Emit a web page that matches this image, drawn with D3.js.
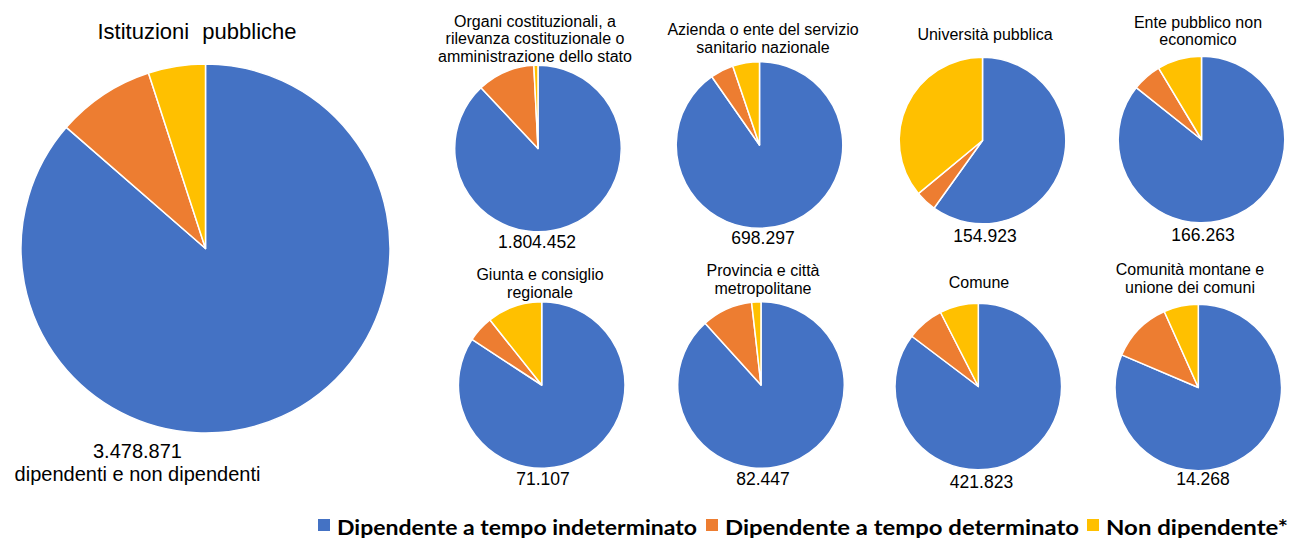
<!DOCTYPE html>
<html>
<head>
<meta charset="utf-8">
<script src="https://cdn.jsdelivr.net/npm/d3@7"></script>
<style>
  html, body { margin: 0; padding: 0; background: #ffffff; }
  svg { display: block; }
  text { font-family: "Liberation Sans", Arial, sans-serif; fill: #000; }
</style>
</head>
<body>
<svg id="chart" width="1290" height="538"></svg>
<script>
// ---------- DATA ----------
const seriesNames = ["Dipendente a tempo indeterminato", "Dipendente a tempo determinato", "Non dipendente*"];
const seriesColors = ["#4472C4", "#ED7D31", "#FFC000"];

const mainTitle = "Istituzioni pubbliche";
const mainTotal = "3.478.871";
const mainSubtitle = "dipendenti e non dipendenti";
const mainIndeterminato = 86.4;
const mainDeterminato = 8.6;
const mainNonDipendente = 5.0;

const categories = [
  ["Organi costituzionali, a", "rilevanza costituzionale o", "amministrazione dello stato"],
  ["Azienda o ente del servizio", "sanitario nazionale"],
  ["Università pubblica"],
  ["Ente pubblico non", "economico"],
  ["Giunta e consiglio", "regionale"],
  ["Provincia e città", "metropolitane"],
  ["Comune"],
  ["Comunità montane e", "unione dei comuni"]
];
const totals = ["1.804.452", "698.297", "154.923", "166.263", "71.107", "82.447", "421.823", "14.268"];
const indeterminato = [88.0, 90.3, 59.9, 85.7, 84.2, 88.3, 85.3, 81.4];
const determinato   = [11.2,  4.5,  4.1,  5.7,  5.1,  9.9,  7.2, 11.9];
const nonDipendente = [ 0.8,  5.2, 36.0,  8.6, 10.7,  1.8,  7.5,  6.7];

// ---------- LAYOUT ----------
const svg = d3.select("#chart");
const color = d3.scaleOrdinal().domain(seriesNames).range(seriesColors);
const pie = d3.pie().sort(null).value(d => d.v);

function drawPie(g, vals, r) {
  const data = seriesNames.map((s, i) => ({ s, v: vals[i] }));
  const arc = d3.arc().innerRadius(0).outerRadius(r);
  g.selectAll("path")
    .data(pie(data))
    .join("path")
    .attr("d", arc)
    .attr("fill", d => color(d.data.s))
    .attr("stroke", "#ffffff")
    .attr("stroke-width", 1.5)
    .attr("stroke-linejoin", "round");
}

// main pie
const mainG = svg.append("g").attr("transform", "translate(205.5,248.5)");
drawPie(mainG, [mainIndeterminato, mainDeterminato, mainNonDipendente], 184.5);
svg.append("text").attr("x", 197).attr("y", 38.5).attr("text-anchor", "middle")
  .style("font-size", "22px").style("word-spacing", "7px").text(mainTitle);
svg.append("text").attr("x", 137.5).attr("y", 458.3).attr("text-anchor", "middle")
  .style("font-size", "20px").text(mainTotal);
svg.append("text").attr("x", 137.5).attr("y", 480.5).attr("text-anchor", "middle")
  .style("font-size", "20px").text(mainSubtitle);

// small pies
const cxs = [538, 759.5, 982.5, 1201.5, 541.7, 761, 978.3, 1198.3];
const cys = [148.5, 145, 140.5, 139.5, 385, 385, 386.5, 387.5];
const titleBase = [26.5, 35, 39.5, 27.5, 280, 276, 288, 275];
const titleCx = [535, 763, 985, 1198, 540, 763, 979, 1190];
const valueBase = [248, 243.5, 241.5, 241, 484.5, 484.5, 487.5, 485];
const valueCx = [537, 763, 985, 1203, 543, 763, 981.5, 1203];
const rSmall = 83.3;

categories.forEach((lines, i) => {
  const g = svg.append("g").attr("transform", `translate(${cxs[i]},${cys[i]})`);
  drawPie(g, [indeterminato[i], determinato[i], nonDipendente[i]], rSmall);
  const t = svg.append("text").attr("text-anchor", "middle").style("font-size", "16px");
  lines.forEach((ln, j) => {
    t.append("tspan").attr("x", titleCx[i]).attr("y", titleBase[i] + j * 17.6).text(ln);
  });
  svg.append("text").attr("x", valueCx[i]).attr("y", valueBase[i]).attr("text-anchor", "middle")
    .style("font-size", "17.5px").text(totals[i]);
});

// legend
const legX = [318, 706, 1087];
const legW = [360, 354, 182];
const legend = svg.append("g");
seriesNames.forEach((s, i) => {
  legend.append("rect").attr("x", legX[i]).attr("y", 519).attr("width", 12).attr("height", 12)
    .attr("fill", color(s));
  legend.append("text").attr("x", legX[i] + 19).attr("y", 535)
    .style("font-family", "Lato, 'Open Sans', sans-serif").style("font-weight", "bold")
    .style("font-size", "21px")
    .attr("textLength", legW[i]).attr("lengthAdjust", "spacingAndGlyphs")
    .text(s);
});
</script>
</body>
</html>
